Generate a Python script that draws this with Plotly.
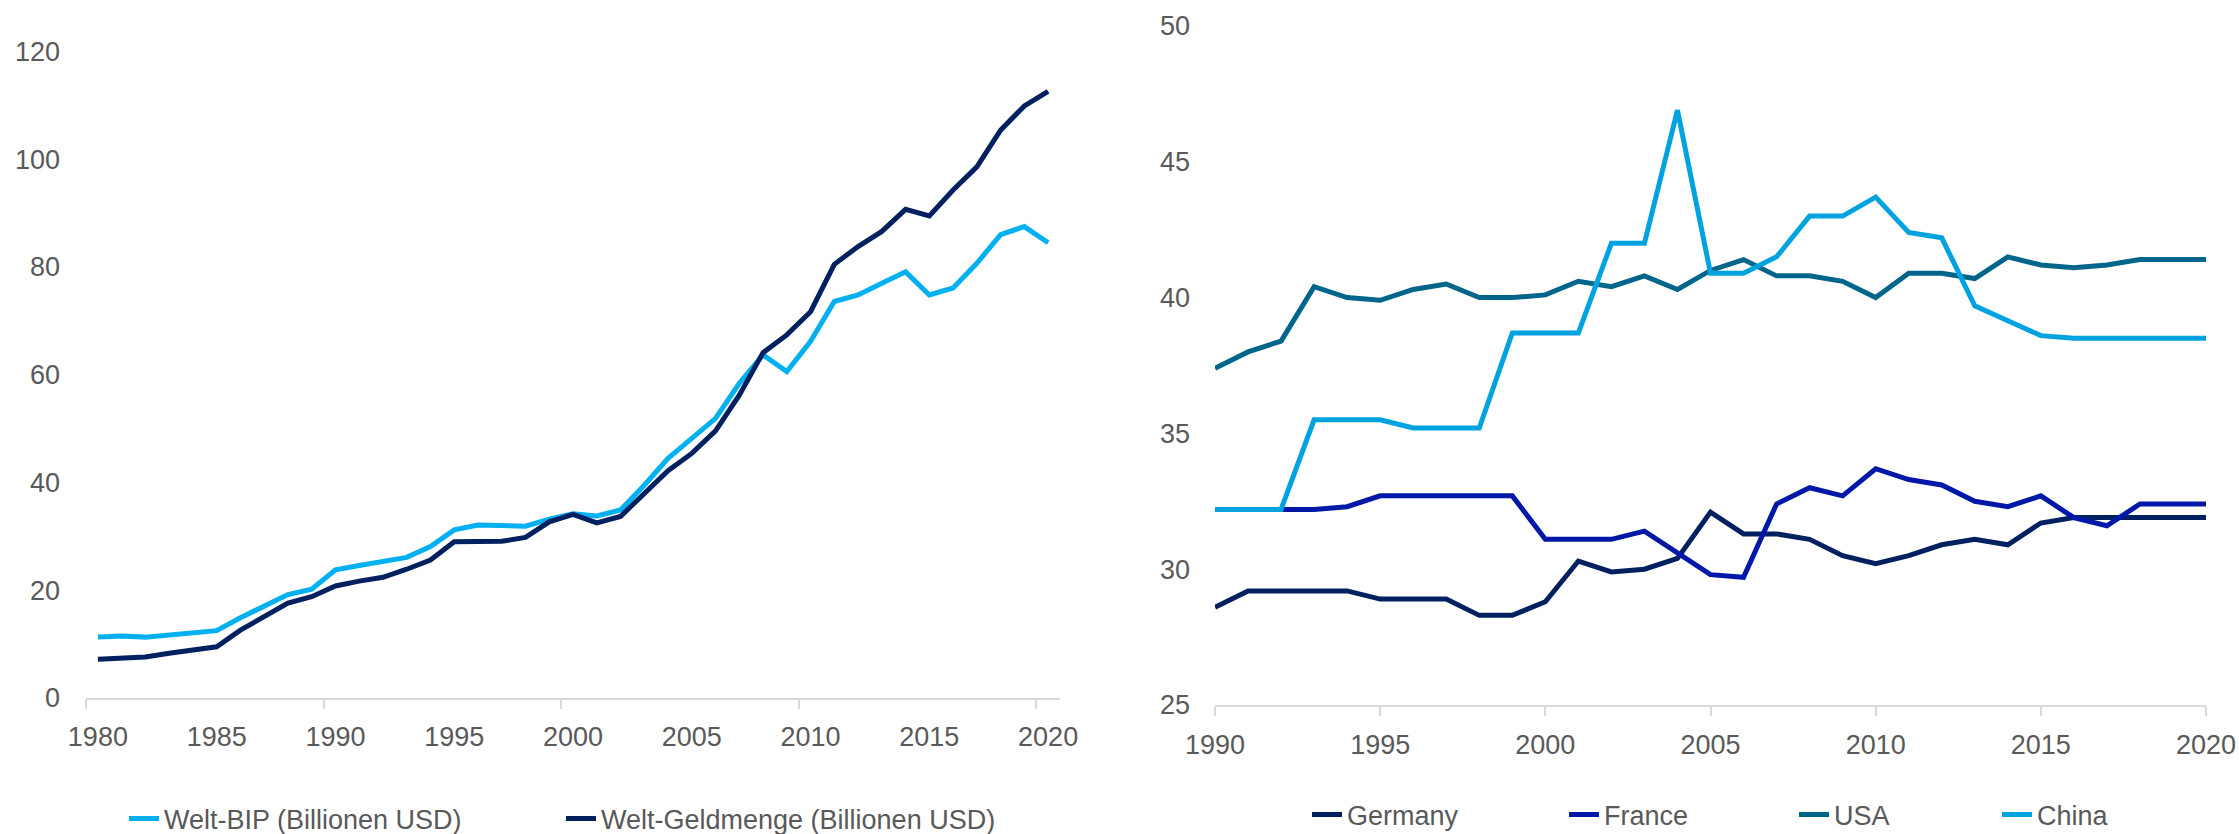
import plotly.graph_objects as go

# ---- Left panel: world GDP vs. world money supply (trillion USD) ----
years_world = list(range(1980, 2021))
welt_bip = [11.3, 11.5, 11.3, 11.7, 12.1, 12.5, 14.9, 17.1, 19.2, 20.2,
            23.8, 24.6, 25.4, 26.1, 28.1, 31.2, 32.1, 32.0, 31.9, 33.2,
            34.2, 33.8, 34.9, 39.5, 44.5, 48.2, 51.9, 58.4, 63.7, 60.6,
            66.2, 73.6, 74.8, 77.0, 79.1, 74.8, 76.1, 80.7, 86.0, 87.5,
            84.5]
welt_geldmenge = [7.2, 7.4, 7.6, 8.3, 8.9, 9.5, 12.6, 15.1, 17.6, 18.8,
                  20.8, 21.7, 22.4, 23.9, 25.6, 29.0, 29.0, 29.1, 29.8, 32.7,
                  34.1, 32.5, 33.7, 38.0, 42.2, 45.4, 49.6, 56.2, 64.1, 67.4,
                  71.7, 80.5, 83.8, 86.6, 90.7, 89.5, 94.3, 98.6, 105.4, 109.9,
                  112.6]

# ---- Right panel: country series ----
years_country = list(range(1990, 2021))
germany = [28.6, 29.2, 29.2, 29.2, 29.2, 28.9, 28.9, 28.9, 28.3, 28.3,
           28.8, 30.3, 29.9, 30.0, 30.4, 32.1, 31.3, 31.3, 31.1, 30.5,
           30.2, 30.5, 30.9, 31.1, 30.9, 31.7, 31.9, 31.9, 31.9, 31.9,
           31.9]
france = [32.2, 32.2, 32.2, 32.2, 32.3, 32.7, 32.7, 32.7, 32.7, 32.7,
          31.1, 31.1, 31.1, 31.4, 30.6, 29.8, 29.7, 32.4, 33.0, 32.7,
          33.7, 33.3, 33.1, 32.5, 32.3, 32.7, 31.9, 31.6, 32.4, 32.4,
          32.4]
usa = [37.4, 38.0, 38.4, 40.4, 40.0, 39.9, 40.3, 40.5, 40.0, 40.0,
       40.1, 40.6, 40.4, 40.8, 40.3, 41.0, 41.4, 40.8, 40.8, 40.6,
       40.0, 40.9, 40.9, 40.7, 41.5, 41.2, 41.1, 41.2, 41.4, 41.4,
       41.4]
china = [32.2, 32.2, 32.2, 35.5, 35.5, 35.5, 35.2, 35.2, 35.2, 38.7,
         38.7, 38.7, 42.0, 42.0, 46.9, 40.9, 40.9, 41.5, 43.0, 43.0,
         43.7, 42.4, 42.2, 39.7, 39.15, 38.6, 38.5, 38.5, 38.5, 38.5,
         38.5]

left_ticks = list(range(1980, 2021, 5))
right_ticks = list(range(1990, 2021, 5))

FONT = "Liberation Sans, Arial, sans-serif"
GREY_TEXT = "#595959"
AXIS_GREY = "#D9D9D9"
W, H = 2239, 834
LW = 5

fig = go.Figure()

fig.add_trace(go.Scatter(x=years_world, y=welt_bip, mode="lines",
                         name="Welt-BIP (Billionen USD)",
                         line=dict(color="#00B0F0", width=LW),
                         xaxis="x", yaxis="y", legend="legend",
                         legendwidth=392))
fig.add_trace(go.Scatter(x=years_world, y=welt_geldmenge, mode="lines",
                         name="Welt-Geldmenge (Billionen USD)",
                         line=dict(color="#002060", width=LW),
                         xaxis="x", yaxis="y", legend="legend"))

country_series = [
    ("Germany", germany, "#002060", 212),
    ("France", france, "#0018A8", 185),
    ("USA", usa, "#00658A", 158),
    ("China", china, "#00A3E0", None),
]
for name, vals, color, lw in country_series:
    kw = dict(legendwidth=lw) if lw else {}
    fig.add_trace(go.Scatter(x=years_country, y=vals, mode="lines", name=name,
                             line=dict(color=color, width=LW),
                             xaxis="x2", yaxis="y2", legend="legend2", **kw))

tick_font = dict(family=FONT, size=27, color=GREY_TEXT)

fig.update_layout(
    width=W, height=H,
    margin=dict(l=0, r=0, t=0, b=0, pad=0, autoexpand=False),
    paper_bgcolor="white", plot_bgcolor="white",
    font=dict(family=FONT, size=27, color=GREY_TEXT),
    xaxis=dict(domain=[86 / W, 1060 / W], range=[1979.5, 2020.5],
               tickmode="array", tickvals=left_ticks, ticks="",
               showline=True, linecolor=AXIS_GREY, linewidth=2,
               showgrid=False, zeroline=False, tickfont=tick_font,
               ticklabelstandoff=14, automargin=False,
               minor=dict(tick0=1979.5, dtick=10, ticks="outside", ticklen=9,
                          tickwidth=2, tickcolor=AXIS_GREY, showgrid=False),
               anchor="y"),
    yaxis=dict(domain=[(H - 698) / H, (H - 51.5) / H], range=[0, 120],
               tickmode="linear", tick0=0, dtick=20, ticks="",
               showline=False, showgrid=False, zeroline=False,
               tickfont=tick_font, ticklabelstandoff=25, automargin=False,
               anchor="x"),
    xaxis2=dict(domain=[1215 / W, 2206 / W], range=[1990, 2020],
                tickmode="array", tickvals=right_ticks, ticks="outside",
                ticklen=9, tickwidth=2, tickcolor=AXIS_GREY,
                showline=True, linecolor=AXIS_GREY, linewidth=2,
                showgrid=False, zeroline=False, tickfont=tick_font,
                ticklabelstandoff=6, automargin=False, anchor="y2"),
    yaxis2=dict(domain=[(H - 705) / H, (H - 26) / H], range=[25, 50],
                tickmode="linear", tick0=25, dtick=5, ticks="",
                showline=False, showgrid=False, zeroline=False,
                tickfont=tick_font, ticklabelstandoff=24, automargin=False,
                anchor="x2"),
    legend=dict(orientation="h", x=124 / W, xanchor="left",
                y=(H - 819) / H, yanchor="middle",
                font=dict(family=FONT, size=27, color=GREY_TEXT),
                bgcolor="rgba(0,0,0,0)", borderwidth=0),
    legend2=dict(orientation="h", x=1307 / W, xanchor="left",
                 y=(H - 815) / H, yanchor="middle",
                 font=dict(family=FONT, size=27, color=GREY_TEXT),
                 bgcolor="rgba(0,0,0,0)", borderwidth=0),
)

fig.write_html("out.html")
